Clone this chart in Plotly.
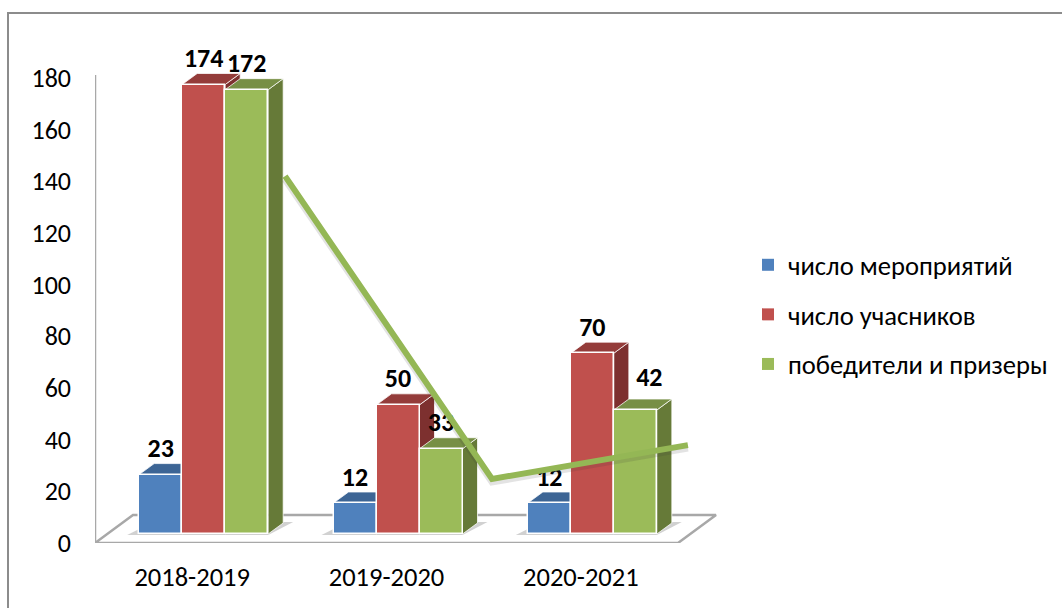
import plotly.graph_objects as go

categories = ["2018-2019", "2019-2020", "2020-2021"]
series_names = ["число мероприятий", "число учасников", "победители и призеры"]
events = [23, 12, 12]
participants = [174, 50, 70]
winners = [172, 33, 48]          # drawn height of the bars
events_labels = [23, 12, 12]
participants_labels = [174, 50, 70]
winners_labels = [172, 33, 42]   # printed value (last bar is drawn taller than its label)
trend_x = [0.478, 1.543, 2.551]
trend_y = [142, 24.8, 37.9]
y_ticks = [0, 20, 40, 60, 80, 100, 120, 140, 160, 180]

front = ["#4F81BD", "#C0504D", "#9BBB59"]
top = ["#3D6595", "#943C3A", "#778F45"]
side = ["#375A85", "#7D302F", "#667A38"]

W, H = 1062, 608
L, R, T, B = 95, 736, 40, 543
PX = (678 - 95) / 3.0         # pixels per category
PY = (543 - 75) / 181.16      # pixels per value unit
FONT = "Carlito, Lato, 'Noto Sans', sans-serif"

bar_w = 43 / PX
base = 9 / PY                 # bars stand part-way back on the floor
shift = 11.5 / PX
dx, dy = 15 / PX, 11 / PY     # bar depth
fx, fy = 38 / PX, 28 / PY     # floor depth

fig = go.Figure()

# floor
fig.add_trace(go.Scatter(
    x=[-0.5, -0.5 + fx, 2.5 + fx, 2.5, -0.5], y=[0, fy, fy, 0, 0],
    mode="lines", fill="toself", fillcolor="white",
    line=dict(color="#A8A8A8", width=2.5), showlegend=False, hoverinfo="skip",
    cliponaxis=False, zorder=0))

# soft shadows on the floor
for k in range(3):
    x0 = k + shift - 1.5 * bar_w
    x1 = k + shift + 1.5 * bar_w
    fig.add_trace(go.Scatter(
        x=[x0 - 12 / PX, x0, x1 + 3 / PX, x1 + 25 / PX, x1],
        y=[base - 1 / PY, base + 5 / PY, base + 12 / PY, base + 12 / PY, base - 1 / PY],
        mode="lines", fill="toself", fillcolor="rgba(90,90,90,0.28)",
        line=dict(width=0), showlegend=False, hoverinfo="skip",
        cliponaxis=False, zorder=1))

all_values = [events, participants, winners]
all_labels = [events_labels, participants_labels, winners_labels]
for s, values in enumerate(all_values):
    z = 2 + s * 2
    group = series_names[s]
    xs = [k + shift + (s - 1) * bar_w for k in range(3)]
    tx, ty, sx, sy = [], [], [], []
    for xc, v in zip(xs, values):
        l, r = xc - bar_w / 2, xc + bar_w / 2
        t = v + base
        tx += [l, l + dx, r + dx, r, l, None]
        ty += [t, t + dy, t + dy, t, t, None]
        sx += [r, r + dx, r + dx, r, r, None]
        sy += [t, t + dy, base + dy, base, t, None]
    fig.add_trace(go.Scatter(
        x=sx, y=sy, mode="lines", fill="toself", fillcolor=side[s],
        line=dict(color="rgba(255,255,255,0.75)", width=1), showlegend=False,
        legendgroup=group, hoverinfo="skip", cliponaxis=False, zorder=z))
    fig.add_trace(go.Scatter(
        x=tx, y=ty, mode="lines", fill="toself", fillcolor=top[s],
        line=dict(color="rgba(255,255,255,0.75)", width=1), showlegend=False,
        legendgroup=group, hoverinfo="skip", cliponaxis=False, zorder=z))
    fig.add_trace(go.Bar(
        x=xs, y=values, base=base, width=bar_w, name=group,
        marker=dict(color=front[s], line=dict(color="white", width=1.5)),
        legendgroup=group, showlegend=False, cliponaxis=False, zorder=z + 1))
    # legend entry without the white bar edge, so the swatch keeps its full size
    fig.add_trace(go.Bar(
        x=[None], y=[None], name=group, marker=dict(color=front[s], line=dict(width=0)),
        legendgroup=group, showlegend=True))

# data labels
lab_x, lab_y, lab_t, = [], [], []
for s, values in enumerate(all_values):
    for k, v in enumerate(values):
        moved = (s == 2 and k == 2)
        lab_x.append(k + shift + (s - 1) * bar_w + (14 / PX if moved else 0))
        lab_y.append(v + base + (31 if moved else 24) / PY)
        lab_t.append(str(all_labels[s][k]))
fig.add_trace(go.Scatter(
    x=lab_x, y=lab_y, text=lab_t, mode="text", textposition="middle center",
    textfont=dict(family=FONT, size=26, color="black", weight="bold"),
    showlegend=False, hoverinfo="skip", cliponaxis=False, zorder=20))

# hand-drawn line with shadow
fig.add_trace(go.Scatter(
    x=trend_x, y=[v - 3 / PY for v in trend_y], mode="lines",
    line=dict(color="rgba(60,60,60,0.14)", width=7), showlegend=False,
    hoverinfo="skip", cliponaxis=False, zorder=21))
fig.add_trace(go.Scatter(
    x=trend_x, y=trend_y, mode="lines",
    line=dict(color="#94B755", width=6), showlegend=False,
    hoverinfo="skip", cliponaxis=False, zorder=22))

px = lambda x: (x - L) / (R - L)
py = lambda y: (B - y) / (B - T)
fig.update_layout(
    width=W, height=H, margin=dict(l=L, r=W - R, t=T, b=H - B, autoexpand=False),
    paper_bgcolor="white", plot_bgcolor="rgba(0,0,0,0)",
    barmode="overlay", bargap=0,
    font=dict(family=FONT, size=26, color="black"),
    xaxis=dict(range=[-0.5, -0.5 + (R - L) / PX], tickmode="array", tickvals=[0, 1, 2],
               ticktext=categories, showgrid=False, zeroline=False, showline=False, ticks="",
               ticklabelstandoff=15, tickfont=dict(size=26.5)),
    yaxis=dict(range=[0, (B - T) / PY], tickmode="array", tickvals=y_ticks, showgrid=False,
               zeroline=False, showline=False, ticks="", ticklabelstandoff=23,
               tickfont=dict(size=26)),
    legend=dict(x=px(748), y=py(314.5), xanchor="left", yanchor="middle",
                tracegroupgap=12, font=dict(size=26.6), bgcolor="rgba(0,0,0,0)"),
    shapes=[
        dict(type="line", xref="x", yref="y", x0=-0.5, x1=-0.5, y0=0, y1=181.16,
             line=dict(color="#A8A8A8", width=2.5)),
        dict(type="path", xref="paper", yref="paper",
             path=f"M {px(8)} {py(608)} L {px(8)} {py(13)} L {px(1062)} {py(13)}",
             line=dict(color="#8C8C8C", width=2)),
    ],
)
fig.write_html("out.html", post_script="document.body.style.margin='0';",
               config=dict(displayModeBar=False))
